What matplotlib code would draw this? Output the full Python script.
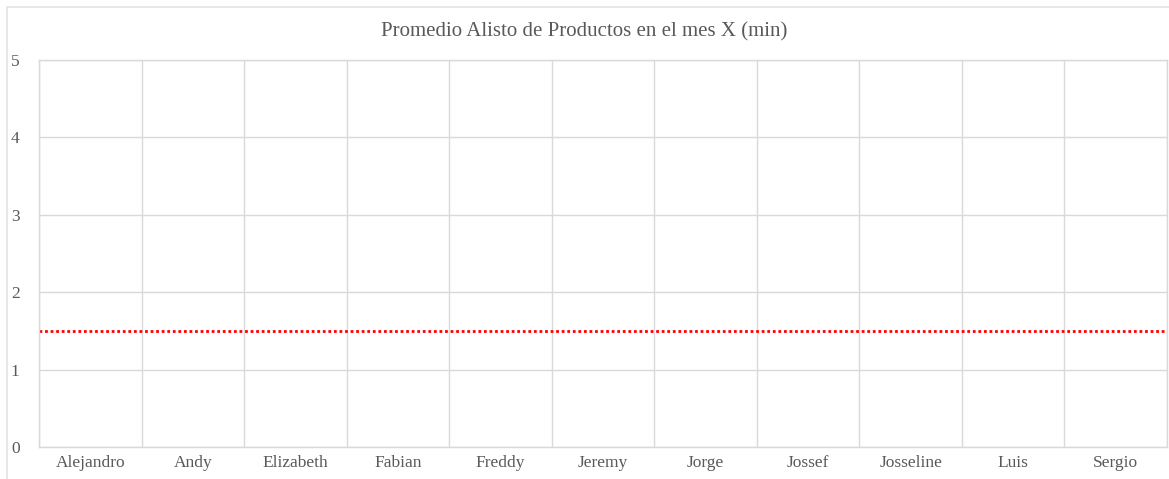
import matplotlib.pyplot as plt
from matplotlib.patches import Rectangle

plt.rcParams['font.family'] = ['Liberation Serif', 'DejaVu Serif']

# datos
empleados = ['Alejandro', 'Andy', 'Elizabeth', 'Fabian', 'Freddy', 'Jeremy',
             'Jorge', 'Jossef', 'Josseline', 'Luis', 'Sergio']
promedio_alisto = [0, 0, 0, 0, 0, 0, 0, 0, 0, 0, 0]
meta_min = 1.5
y_ticks = [0, 1, 2, 3, 4, 5]

gris_texto = '#595959'
gris_linea = '#d9d9d9'

fig = plt.figure(figsize=(11.69, 4.79), dpi=100)
ax = fig.add_axes([39 / 1169, 1 - 447 / 479, 1128 / 1169, 387 / 479])

# marco del grafico
fig.patches.append(Rectangle((7 / 1169, -0.05), 1.2, 1 - 7 / 479 + 0.05,
                             transform=fig.transFigure, fill=False,
                             edgecolor='#e3e3e3', linewidth=1.2))

x = range(len(empleados))
ax.bar(x, promedio_alisto, width=0.6, color='#4472c4')
ax.axhline(meta_min, color='#ff0000', linestyle=(0, (1, 1)), linewidth=2)

ax.set_xlim(-0.5, len(empleados) - 0.5)
ax.set_ylim(y_ticks[0], y_ticks[-1])
ax.set_yticks(y_ticks)
ax.set_xticks(list(x))
ax.set_xticklabels(empleados)

# lineas de division entre categorias
ax.set_xticks([i + 0.5 for i in range(-1, len(empleados))], minor=True)
ax.grid(True, which='minor', axis='x', color=gris_linea, linewidth=1)
ax.grid(True, which='major', axis='y', color=gris_linea, linewidth=1)
ax.set_axisbelow(True)

for s in ax.spines.values():
    s.set_color(gris_linea)
    s.set_linewidth(1)

ax.tick_params(axis='both', which='both', length=0, colors=gris_texto,
               labelsize=12.5)
ax.tick_params(axis='x', pad=6)
ax.tick_params(axis='y', pad=14)

fig.text(0.5, 1 - 32 / 479, 'Promedio Alisto de Productos en el mes X (min)',
         ha='center', va='center', fontsize=15, color=gris_texto)

fig.savefig('out.png', dpi=100)
